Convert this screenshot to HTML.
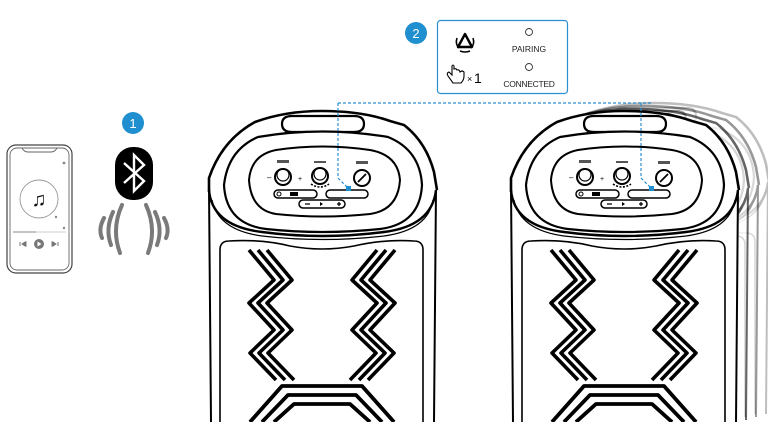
<!DOCTYPE html>
<html><head><meta charset="utf-8"><style>
html,body{margin:0;padding:0;background:#fff;width:768px;height:422px;overflow:hidden}
svg{display:block}
text{font-family:"Liberation Sans",sans-serif}
</style></head><body>
<svg width="768" height="422" viewBox="0 0 768 422" xmlns="http://www.w3.org/2000/svg">
<defs>
<g id="zz" fill="none" stroke="#000" stroke-width="3.6" stroke-linejoin="round">
  <polyline points="249,250 274,280 249,303 274,330 250,353 276,380"/>
  <polyline points="258,250 283,280 258,303 283,330 259,353 285,380"/>
  <polyline points="267,250 292,280 267,303 292,330 268,353 294,380"/>
  <path d="M250,422 L282,386 L362,386 L394,422"/>
  <path d="M262,422 L288,395 L356,395 L382,422"/>
  <path d="M274,422 L294,404 L350,404 L370,422"/>
</g>
<g id="spk">
  <rect x="209" y="180" width="227" height="242" fill="#fff"/>
  <path d="M209,188 L211,422 M436,188 L434,422" stroke="#000" stroke-width="2" fill="none"/>
  <path d="M209,192 L209,178 Q222,140 255,122 Q285,111 322,111 Q362,111 390,121 L404,125 Q426,142 434,172 L437,190" fill="#fff" stroke="#000" stroke-width="2.6"/>
  <path d="M209,190 Q212,226 262,232 Q322,240 384,232 Q432,226 436,190" fill="none" stroke="#000" stroke-width="2.4"/>
  <path d="M212,200 Q218,230 262,236 Q322,243 384,236 Q428,230 433,200" fill="none" stroke="#000" stroke-width="1.2"/>
  <path d="M282,124 Q282,116 292,116 L354,116 Q364,116 364,124 Q364,132 354,132 L292,132 Q282,132 282,124Z" fill="#fff" stroke="#000" stroke-width="2.2"/>
  <path d="M224,185 Q228,150 258,137 Q322,126 388,137 Q420,150 422,185 Q420,224 380,229 Q322,235 266,229 Q226,224 224,185Z" fill="#fff" stroke="#000" stroke-width="2.2"/>
  <path d="M249,180 Q251,155 276,150 Q322,143 370,150 Q398,155 400,180 Q398,210 370,214 Q322,219 276,214 Q251,210 249,180Z" fill="#fff" stroke="#000" stroke-width="2"/>
  <circle cx="283" cy="177" r="8" fill="#fff" stroke="#000" stroke-width="2"/>
  <circle cx="283" cy="175" r="6" fill="none" stroke="#000" stroke-width="1.2"/>
  <circle cx="320" cy="176" r="8" fill="#fff" stroke="#000" stroke-width="2"/>
  <circle cx="320" cy="174" r="6" fill="none" stroke="#000" stroke-width="1.2"/>
  <path d="M311,184 Q320,190 329,184" stroke="#000" stroke-width="1.6" stroke-dasharray="2 1.5" fill="none"/>
  <circle cx="362" cy="178" r="8" fill="#fff" stroke="#000" stroke-width="2"/>
  <path d="M358,182 L366,174" stroke="#000" stroke-width="1.8"/>
  <text x="267" y="180" font-size="8">–</text><text x="298" y="181" font-size="7">+</text>
  <rect x="277" y="160" width="12" height="3" fill="#555"/>
  <rect x="314" y="161" width="12" height="2" fill="#555"/>
  <rect x="356" y="161" width="12" height="3" fill="#555"/>
  <rect x="274" y="190" width="43" height="8" rx="4" fill="#fff" stroke="#000" stroke-width="1.5"/>
  <rect x="326" y="190" width="42" height="8" rx="4" fill="#fff" stroke="#000" stroke-width="1.5"/>
  <rect x="299" y="200" width="46" height="8" rx="4" fill="#fff" stroke="#000" stroke-width="1.5"/>
  <rect x="290" y="192" width="8" height="4" fill="#000"/>
  <circle cx="279" cy="194" r="2" fill="none" stroke="#000"/>
  <path d="M305,204 L310,204 M337,204 L341,204 M339,202 L339,206" stroke="#000" stroke-width="1.3"/>
  <path d="M320,202 L320,206 L323,204Z" fill="#000"/>
  <path d="M220,422 L220,250 Q220,241 229,241 Q262,239 290,246 Q322,252 354,246 Q384,239 414,241 Q423,241 423,250 L423,422" fill="none" stroke="#000" stroke-width="1.6"/>
  <use href="#zz"/>
  <use href="#zz" transform="translate(644,0) scale(-1,1)"/>
</g>
</defs>

<!-- phone -->
<rect x="7" y="145" width="65" height="128" rx="9" fill="#fff" stroke="#444" stroke-width="1.2"/>
<rect x="10" y="148" width="59" height="122" rx="7" fill="none" stroke="#666" stroke-width="0.9"/>
<path d="M22,148 Q24,152 28,152 L51,152 Q55,152 57,148" fill="none" stroke="#666" stroke-width="0.9"/>
<circle cx="39" cy="199" r="19" fill="none" stroke="#999" stroke-width="0.9"/>
<text x="39" y="206" font-size="20" text-anchor="middle" fill="#111" font-family="DejaVu Sans">♫</text>
<line x1="13" y1="232" x2="66" y2="232" stroke="#ccc"/><line x1="13" y1="232" x2="36" y2="232" stroke="#888"/>
<circle cx="39" cy="244" r="5" fill="#777"/><path d="M37.5,241.5 L37.5,246.5 L41.5,244Z" fill="#fff"/>
<path d="M20,242 v4 M22,244 l3,-2 v4z M23,244 l3,-2 v4z" stroke="#777" fill="#777" stroke-width="1"/>
<path d="M58,242 v4 M56,244 l-3,-2 v4z M55,244 l-3,-2 v4z" stroke="#777" fill="#777" stroke-width="1"/>
<circle cx="64" cy="163" r="1.4" fill="#888"/><circle cx="64" cy="228" r="1.2" fill="#888"/><circle cx="56" cy="217" r="1.2" fill="#888"/>

<!-- badge 1 & bluetooth -->
<circle cx="133" cy="123" r="11" fill="#1f8fcf"/>
<text x="133" y="128" font-size="13" fill="#fff" text-anchor="middle">1</text>
<rect x="115" y="147" width="38" height="53" rx="18" fill="#000"/>
<polyline points="124,163 144,181 134,191 134,155 144,165 124,183" fill="none" stroke="#fff" stroke-width="2.4" stroke-linejoin="miter"/>
<g fill="none" stroke="#7a7a7a" stroke-width="4" stroke-linecap="round">
  <path d="M104,218 Q98,229 102,238"/><path d="M113,212 Q105,229 111,245"/><path d="M122,205 Q111,229 120,253"/>
  <path d="M164,218 Q170,229 166,238"/><path d="M155,212 Q163,229 157,245"/><path d="M146,205 Q157,229 148,253"/>
</g>

<use href="#spk"/>
<!-- ghost layers of right speaker -->
<g opacity="0.25"><use href="#spk" transform="translate(332,-8)"/></g>
<g opacity="0.4"><use href="#spk" transform="translate(322,-5)"/></g>
<g opacity="0.6"><use href="#spk" transform="translate(312,-2)"/></g>
<use href="#spk" transform="translate(302,0)"/>

<!-- dashed connector -->
<path d="M338,103 L652,103 M338,103 L338,178 L349,189 M641,103 L641,178 L652,189" fill="none" stroke="#2a8fd0" stroke-width="1.2" stroke-dasharray="3 2"/>
<rect x="346" y="186" width="5" height="5" fill="#1f8fcf"/>
<rect x="649" y="186" width="5" height="5" fill="#1f8fcf"/>

<!-- badge 2 & box -->
<circle cx="416" cy="33" r="11" fill="#1f8fcf"/>
<text x="416" y="38" font-size="13" fill="#fff" text-anchor="middle">2</text>
<rect x="437.5" y="20.5" width="130" height="73" rx="3" fill="#fff" stroke="#2a8fd0" stroke-width="1.2"/>
<g transform="translate(465,42)">
  <path d="M0,-8 L7,5 L-7,5Z" fill="none" stroke="#000" stroke-width="2.4" stroke-linejoin="round"/>
  <path d="M-8,-4 Q-10,2 -6,6 M8,-4 Q10,2 6,6 M-5,9 Q0,11 5,9" fill="none" stroke="#000" stroke-width="1.6"/>
</g>
<path d="M452,66 L452,75 L449,72 Q446,73 448,76 L453,83 L461,83 Q464,80 464,76 L464,72 Q462,70 460,72 Q459,69 457,70 Q456,68 454,69 L454,66 Q453,64 452,66Z" fill="#fff" stroke="#000" stroke-width="1.1"/>
<text x="467" y="82" font-size="9" fill="#000">×</text>
<text x="474" y="83" font-size="14" fill="#000">1</text>
<circle cx="529" cy="32" r="3.5" fill="none" stroke="#333" stroke-width="0.9"/>
<text x="529" y="52" font-size="8.5" fill="#222" text-anchor="middle">PAIRING</text>
<circle cx="529" cy="67" r="3.5" fill="none" stroke="#333" stroke-width="0.9"/>
<text x="529" y="87" font-size="8.5" fill="#222" text-anchor="middle" letter-spacing="-0.3">CONNECTED</text>
</svg>
</body></html>
